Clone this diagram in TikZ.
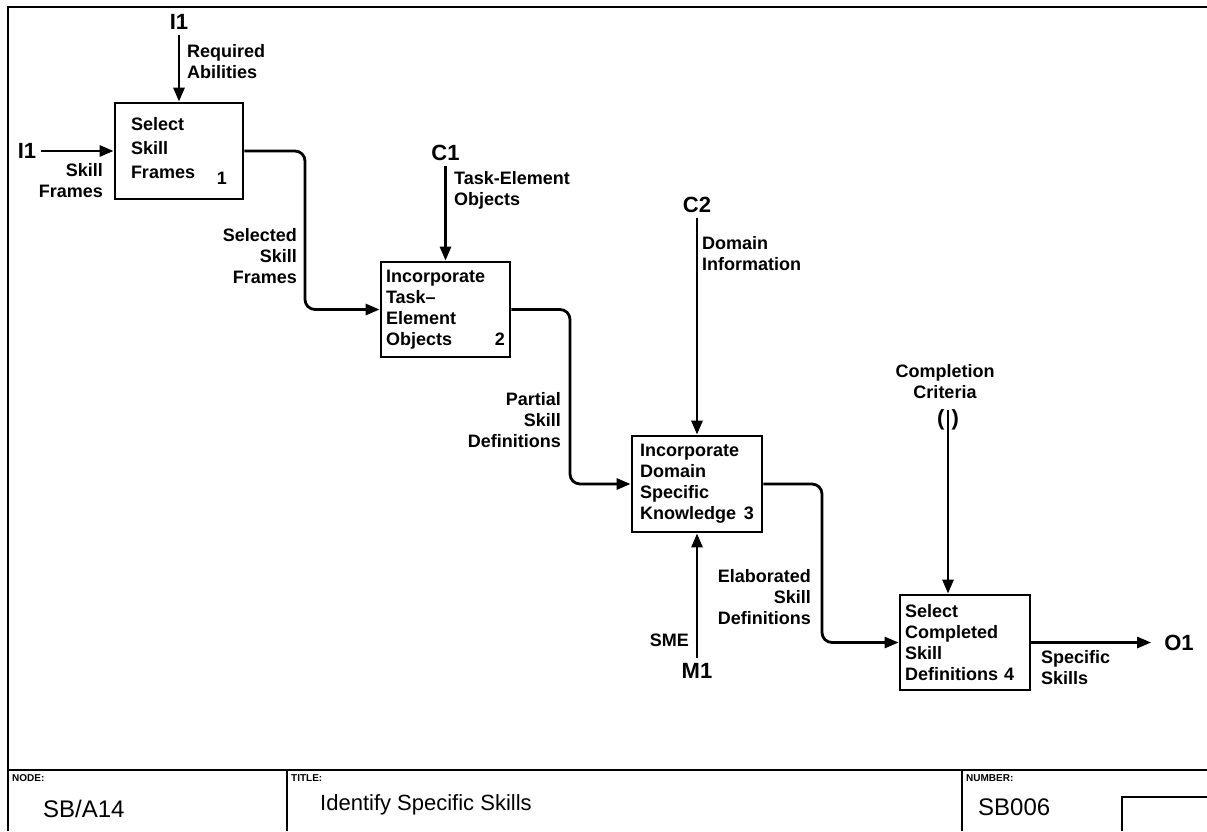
\documentclass[tikz,border=0pt]{standalone}
\usepackage{fontspec}
\setmainfont{Liberation Sans}
\usetikzlibrary{arrows.meta}
\begin{document}
\begin{tikzpicture}[x=1pt,y=-1pt,
  box/.style={draw, line width=2.8pt, rectangle, align=left, font=\fontsize{18}{21}\selectfont\bfseries, inner ysep=2pt},
  lab/.style={font=\fontsize{18}{21}\selectfont\bfseries, inner sep=1pt},
  tag/.style={font=\fontsize{22}{24}\selectfont\bfseries, inner sep=5pt},
  arr/.style={line width=2.8pt, -{Triangle[length=14pt,width=11pt]}},
  conn/.style={arr, rounded corners=10pt},
  frame/.style={line width=2.4pt},
  small/.style={font=\fontsize{10}{11}\selectfont\bfseries, inner sep=1pt},
]
\useasboundingbox (0,0) rectangle (1207,831);

% frame and title block
\draw[frame] (8,831) -- (8,7) -- (1207,7);
\draw[frame] (8,770) -- (1207,770);
\draw[frame] (287,770) -- (287,831);
\draw[frame] (962,770) -- (962,831);
\draw[frame] (1122,831) -- (1122,797) -- (1207,797);
\node[small, anchor=north west] (nNODE) at (11,773) {NODE:};
\node[small, anchor=north west] (nTITLE) at (290,773) {TITLE:};
\node[small, anchor=north west] (nNUMBER) at (965,773) {NUMBER:};
\node[anchor=west, font=\fontsize{24}{26}\selectfont, inner sep=0pt] (nSB) at (43,809) {SB/A14};
\node[anchor=west, font=\fontsize{22}{24}\selectfont, inner sep=0pt] (nTitle) at (320,805) {Identify Specific Skills};
\node[anchor=west, font=\fontsize{24}{26}\selectfont, inner sep=0pt] (nNum) at (978,807) {SB006};

% boxes
\node[box, font=\fontsize{18}{24}\selectfont\bfseries, minimum width=128pt, minimum height=96pt, text width=96pt, inner xsep=14pt] (b1) at (179,151) {Select\\Skill\\Frames\hfill\raisebox{-6pt}{1}};
\node[box, minimum width=129pt, minimum height=95pt, text width=119pt, inner xsep=5pt] (b2) at (445.5,309.5) {Incorporate\\Task--\\Element\\Objects\hfill 2};
\node[box, minimum width=130pt, minimum height=96pt, text width=114pt, inner xsep=8pt] (b3) at (697,484) {Incorporate\\Domain\\Specific\\Knowledge\hfill 3};
\node[box, minimum width=130pt, minimum height=95pt, text width=120pt, inner xsep=5pt] (b4) at (965,642.5) {Select\\Completed\\Skill\\Definitions~4};

% box 1 inputs/controls
\node[tag] (tI1a) at (179,22) {I1};
\draw[arr] (tI1a.south) -- (b1.north);
\node[lab, anchor=west, align=left] (lRA) at (186,62) {Required\\Abilities};
\node[tag] (tI1b) at (27,151) {I1};
\draw[arr] (tI1b.east) -- (b1.west);
\node[lab, anchor=east, align=right] (lSF) at (104,181) {Skill\\Frames};

% box 1 -> box 2
\coordinate (k1) at (305,230);
\draw[conn] (b1.east) -| (k1) |- (b2.west);
\node[lab, anchor=east, align=right] (lSSF) at (298,256) {Selected\\Skill\\Frames};

% box 2 control
\node[tag] (tC1) at (445.5,153) {C1};
\draw[arr] (tC1.south) -- (b2.north);
\node[lab, anchor=west, align=left] (lTEO) at (453,190) {Task-Element\\Objects};

% box 2 -> box 3
\coordinate (k2) at (570,400);
\draw[conn] (b2.east) -| (k2) |- (b3.west);
\node[lab, anchor=east, align=right] (lPSD) at (562,420) {Partial\\Skill\\Definitions};

% box 3 control and mechanism
\node[tag] (tC2) at (697,205) {C2};
\draw[arr] (tC2.south) -- (b3.north);
\node[lab, anchor=west, align=left] (lDI) at (701,254) {Domain\\Information};
\node[tag] (tM1) at (697,671) {M1};
\draw[arr] (tM1.north) -- (b3.south);
\node[lab, anchor=east] (lSME) at (690,640) {SME};

% box 3 -> box 4
\coordinate (k3) at (822,560);
\draw[conn] (b3.east) -| (k3) |- (b4.west);
\node[lab, anchor=east, align=right] (lESD) at (812,597) {Elaborated\\Skill\\Definitions};

% box 4 control
\node[lab, align=center] (lCC) at (945,382) {Completion\\Criteria};
\node[font=\fontsize{22}{24}\selectfont\bfseries, inner sep=0pt] (tun) at (948,420) {(\hspace{7pt})};
\draw[arr] (tun.north) -- (tun.north |- b4.north);

% box 4 output
\node[tag] (tO1) at (1179,642.5) {O1};
\draw[arr, shorten >=8pt] (b4.east) -- (tO1.west);
\node[lab, anchor=west, align=left] (lSS) at (1040,668) {Specific\\Skills};
\end{tikzpicture}
\end{document}
